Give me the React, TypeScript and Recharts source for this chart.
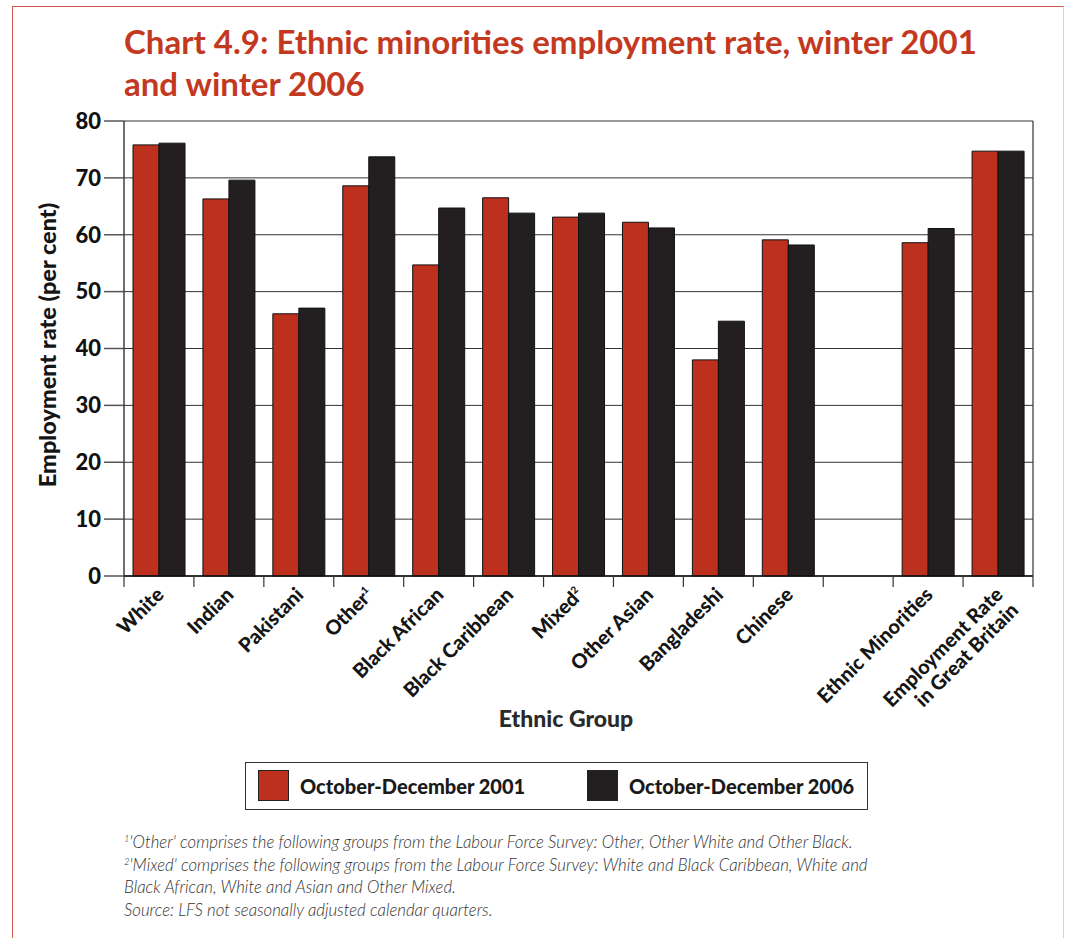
import { BarChart, Bar, XAxis, YAxis, CartesianGrid } from "recharts";

// Ethnic groups along the x axis (one empty slot before the summary bars)
const categories = [
  "White",
  "Indian",
  "Pakistani",
  "Other",
  "Black African",
  "Black Caribbean",
  "Mixed",
  "Other Asian",
  "Bangladeshi",
  "Chinese",
  "",
  "Ethnic Minorities",
  "Employment Rate in Great Britain",
];
const tickLines = [
  ["White"],
  ["Indian"],
  ["Pakistani"],
  ["Other"],
  ["Black African"],
  ["Black Caribbean"],
  ["Mixed"],
  ["Other Asian"],
  ["Bangladeshi"],
  ["Chinese"],
  [],
  ["Ethnic Minorities"],
  ["Employment Rate", "in Great Britain"],
];
const tickNotes = ["", "", "", "1", "", "", "2", "", "", "", "", "", ""];

const rate2001 = [75.8, 66.3, 46.1, 68.6, 54.7, 66.5, 63.1, 62.2, 38.0, 59.1, null, 58.6, 74.7];
const rate2006 = [76.1, 69.6, 47.1, 73.7, 64.7, 63.8, 63.8, 61.2, 44.8, 58.2, null, 61.1, 74.7];

const seriesNames = ["October-December 2001", "October-December 2006"];
const seriesColors = ["#bd301e", "#231f20"];
const yTicks = [0, 10, 20, 30, 40, 50, 60, 70, 80];

const footnotes = [
  { sup: "1", text: "'Other' comprises the following groups from the Labour Force Survey: Other, Other White and Other Black." },
  { sup: "2", text: "'Mixed' comprises the following groups from the Labour Force Survey: White and Black Caribbean, White and" },
  { sup: "", text: "Black African, White and Asian and Other Mixed." },
  { sup: "", text: "Source: LFS not seasonally adjusted calendar quarters." },
];

const data = categories.map((name, i) => ({
  name,
  a: rate2001[i],
  b: rate2006[i],
}));

const FONT = "'Lato', 'Open Sans', sans-serif";

const GroupTick = (props: any) => {
  const { x, y, index, visibleTicksCount } = props;
  const count = visibleTicksCount || categories.length;
  const half = props.width ? props.width / count / 2 : 35;
  const lines = tickLines[index] || [];
  const note = tickNotes[index];
  return (
    <g>
      <line x1={x - half} x2={x - half} y1={y} y2={y + 11} stroke="#333" strokeWidth={1.2} />
      {index === count - 1 && (
        <line x1={x + half} x2={x + half} y1={y} y2={y + 11} stroke="#333" strokeWidth={1.2} />
      )}
      <text
        transform={`translate(${x + 6},${y + 20}) rotate(-45)`}
        textAnchor="end"
        fontFamily={FONT}
        fontSize={20}
        fontWeight={900}
        fill="#151515"
      >
        {lines.map((l, i) => (
          <tspan key={i} x={0} dy={i === 0 ? 0 : "1.1em"}>
            {l}
            {note && i === lines.length - 1 ? (
              <tspan fontSize={10} dy={-8}>
                {note}
              </tspan>
            ) : null}
          </tspan>
        ))}
      </text>
    </g>
  );
};

export default function App() {
  return (
    <div
      style={{
        position: "absolute",
        left: 0,
        top: 0,
        width: 1066,
        height: 938,
        background: "#fff",
        overflow: "hidden",
        fontFamily: FONT,
      }}
    >
      {/* page frame */}
      <div
        style={{
          position: "absolute",
          left: 12,
          top: 6,
          width: 1050,
          height: 960,
          borderTop: "1.5px solid #d25a4c",
          borderLeft: "1.5px solid #d25a4c",
          borderRight: "1.5px solid #f0c8c4",
        }}
      />

      <div
        style={{
          position: "absolute",
          left: 124,
          top: 20,
          color: "#c3391f",
          fontWeight: 700,
          fontSize: 33,
          lineHeight: "42px",
        }}
      >
        Chart 4.9: Ethnic minorities employment rate, winter 2001
        <br />
        and winter 2006
      </div>

      <div style={{ position: "absolute", left: 0, top: 0 }}>
        <BarChart
          width={1066}
          height={760}
          data={data}
          margin={{ top: 121, right: 32, bottom: 34, left: 64 }}
          barGap={0}
          barSize={26}
        >
          <CartesianGrid vertical={false} stroke="#333" strokeWidth={1} />
          <XAxis
            dataKey="name"
            interval={0}
            height={150}
            tickSize={0}
            tickMargin={0}
            tickLine={false}
            axisLine={{ stroke: "#111", strokeWidth: 1.5 }}
            tick={<GroupTick />}
          />
          <YAxis
            domain={[0, 80]}
            ticks={yTicks}
            width={60}
            tickSize={20}
            tickMargin={3}
            tickLine={{ stroke: "#555", strokeWidth: 1.5 }}
            axisLine={{ stroke: "#111", strokeWidth: 1.2 }}
            tick={{ fontFamily: FONT, fontSize: 22, fontWeight: 900, fill: "#111" }}
          />
          <YAxis
            yAxisId="frame"
            orientation="right"
            domain={[0, 80]}
            width={1}
            tick={false}
            tickLine={false}
            axisLine={{ stroke: "#333", strokeWidth: 1.2 }}
          />
          <Bar dataKey="a" name={seriesNames[0]} fill={seriesColors[0]} stroke="#111" strokeWidth={1} isAnimationActive={false} />
          <Bar dataKey="b" name={seriesNames[1]} fill={seriesColors[1]} stroke="#111" strokeWidth={1} isAnimationActive={false} />
        </BarChart>
      </div>

      {/* y axis title */}
      <div
        style={{
          position: "absolute",
          left: 47,
          top: 345,
          transform: "translate(-50%, -50%) rotate(-90deg)",
          whiteSpace: "nowrap",
          fontWeight: 900,
          fontSize: 23.5,
          color: "#151515",
        }}
      >
        Employment rate (per cent)
      </div>

      {/* x axis title */}
      <div
        style={{
          position: "absolute",
          left: 566,
          top: 704,
          transform: "translateX(-50%)",
          whiteSpace: "nowrap",
          fontWeight: 900,
          fontSize: 23,
          color: "#2a2a2a",
        }}
      >
        Ethnic Group
      </div>

      {/* legend */}
      <div
        style={{
          position: "absolute",
          left: 245,
          top: 762,
          width: 623,
          height: 48,
          border: "1.5px solid #333",
          boxSizing: "border-box",
        }}
      >
        {seriesNames.map((n, i) => (
          <div
            key={n}
            style={{
              position: "absolute",
              left: i === 0 ? 12 : 341,
              top: 7,
              display: "flex",
              alignItems: "center",
            }}
          >
            <div
              style={{
                width: 31,
                height: 31,
                background: seriesColors[i],
                border: "1px solid #222",
                boxSizing: "border-box",
              }}
            />
            <span style={{ marginLeft: 11, fontWeight: 900, fontSize: 20, color: "#1a1a1a" }}>{n}</span>
          </div>
        ))}
      </div>

      {/* footnotes */}
      <div
        style={{
          position: "absolute",
          left: 124,
          top: 831,
          fontStyle: "italic",
          fontWeight: 300,
          fontSize: 16.8,
          lineHeight: "22.7px",
          color: "#333",
          whiteSpace: "nowrap",
        }}
      >
        {footnotes.map((f, i) => (
          <div key={i} style={{ height: 22.7 }}>
            {f.sup && (
              <span style={{ fontSize: 9.5, position: "relative", top: -6, lineHeight: 0 }}>{f.sup}</span>
            )}
            {f.text}
          </div>
        ))}
      </div>
    </div>
  );
}
